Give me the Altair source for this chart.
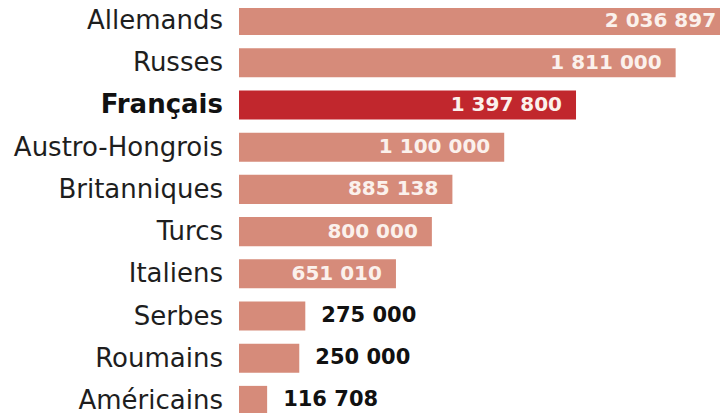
import altair as alt
import pandas as pd

nations = ["Allemands", "Russes", "Français", "Austro-Hongrois", "Britanniques",
           "Turcs", "Italiens", "Serbes", "Roumains", "Américains"]
morts = [2036897, 1811000, 1397800, 1100000, 885138, 800000, 651010, 275000, 250000, 116708]
labels = [f"{v:,}".replace(",", " ") for v in morts]

df = pd.DataFrame({"nation": nations, "morts": morts, "label": labels})

FONT = "DejaVu Sans"
y = alt.Y("nation:N", sort=nations, axis=None,
          scale=alt.Scale(range=[-2, 407], paddingInner=0.31, paddingOuter=0))
x = alt.X("morts:Q", axis=None,
          scale=alt.Scale(domain=[0, 1995000], nice=False, zero=True))

bars = alt.Chart(df).mark_bar(cornerRadius=0).encode(
    x=x, y=y,
    color=alt.condition(alt.datum.nation == "Français", alt.value("#C1272D"), alt.value("#D68B7A")),
)

names = alt.Chart(df).transform_filter(alt.datum.nation != "Français").mark_text(
    align="right", baseline="middle", font=FONT, fontSize=26, color="#1e1e1e", dy=0.5).encode(
    x=alt.value(-16), y=y, text="nation:N")

names_bold = alt.Chart(df).transform_filter(alt.datum.nation == "Français").mark_text(
    align="right", baseline="middle", font=FONT, fontSize=26, fontWeight="bold",
    color="#111111", dy=0.5).encode(x=alt.value(-16), y=y, text="nation:N")

inside = alt.Chart(df).transform_filter(alt.datum.morts > 500000).mark_text(
    align="right", baseline="middle", font=FONT, fontSize=20, fontWeight="bold",
    color="#FBF1EC", dx=-14).encode(x=x, y=y, text="label:N")

outside = alt.Chart(df).transform_filter(alt.datum.morts <= 500000).mark_text(
    align="left", baseline="middle", font=FONT, fontSize=21, fontWeight="bold",
    color="#111111", dx=16).encode(x=x, y=y, text="label:N")

chart = alt.layer(bars, names, names_bold, inside, outside).properties(
    width=481, height=405,
    background="white",
    autosize=alt.AutoSizeParams(type="none"),
    padding={"left": 231, "right": 0, "top": 0, "bottom": 0},
).configure_view(stroke=None)

chart.save("out.html", embed_options={"renderer": "svg", "actions": False})
